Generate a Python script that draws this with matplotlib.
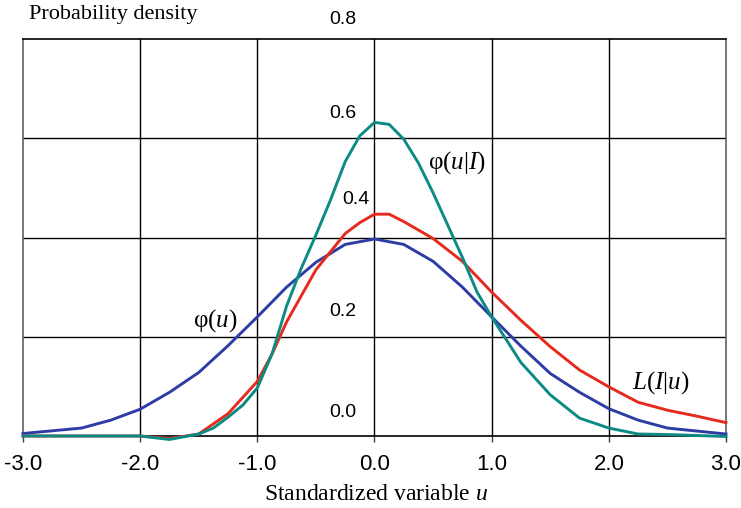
import matplotlib
matplotlib.use("Agg")
import matplotlib.pyplot as plt

# Standard normal density phi(u)
u_phi = [-3.0, -2.5, -2.25, -2.0, -1.75, -1.5, -1.25, -1.0, -0.75, -0.5, -0.25, 0.0,
         0.25, 0.5, 0.75, 1.0, 1.25, 1.5, 1.75, 2.0, 2.25, 2.5, 3.0]
phi = [0.005, 0.016, 0.032, 0.054, 0.088, 0.128, 0.182, 0.240, 0.300, 0.350, 0.386, 0.397,
       0.386, 0.352, 0.300, 0.240, 0.181, 0.126, 0.088, 0.055, 0.032, 0.016, 0.004]

# Likelihood L(I|u)
u_like = [-3.0, -2.5, -2.0, -1.75, -1.5, -1.25, -1.0, -0.875, -0.75, -0.5, -0.25, -0.125,
          0.0, 0.125, 0.25, 0.5, 0.75, 1.0, 1.25, 1.5, 1.75, 2.0, 2.25, 2.5, 2.75, 3.0]
like = [0.0, 0.0, 0.0, -0.005, 0.004, 0.045, 0.110, 0.165, 0.230, 0.335, 0.408, 0.430,
        0.447, 0.447, 0.432, 0.398, 0.352, 0.290, 0.233, 0.180, 0.133, 0.099, 0.068, 0.052,
        0.040, 0.027]

# Posterior density phi(u|I)
u_post = [-3.0, -2.5, -2.0, -1.75, -1.5, -1.375, -1.25, -1.125, -1.0, -0.875, -0.75, -0.625,
          -0.5, -0.375, -0.25, -0.125, 0.0, 0.125, 0.25, 0.375, 0.5, 0.625, 0.75, 0.875,
          1.0, 1.25, 1.5, 1.75, 2.0, 2.25, 2.5, 3.0]
post = [0.0, 0.0, 0.0, -0.007, 0.004, 0.016, 0.038, 0.062, 0.097, 0.165, 0.262, 0.338,
        0.405, 0.476, 0.553, 0.605, 0.632, 0.628, 0.598, 0.550, 0.490, 0.425, 0.360, 0.290,
        0.240, 0.148, 0.083, 0.036, 0.016, 0.004, 0.003, -0.001]

x_ticks = [-3.0, -2.0, -1.0, 0.0, 1.0, 2.0, 3.0]
y_ticks = [0.0, 0.2, 0.4, 0.6, 0.8]

SERIF = "Liberation Serif"
SANS = "Liberation Sans"
plt.rcParams["mathtext.fontset"] = "custom"
plt.rcParams["mathtext.rm"] = SERIF
plt.rcParams["mathtext.it"] = SERIF + ":italic"

fig = plt.figure(figsize=(7.41, 5.08), dpi=100)
ax = fig.add_axes([23 / 741, 1 - 436 / 508, 703 / 741, 397 / 508])
ax.set_xlim(-3, 3)
ax.set_ylim(0, 0.8)

# grid
for xv in x_ticks[1:-1]:
    ax.axvline(xv, color="black", lw=1.0, zorder=1)
for yv in y_ticks[1:-1]:
    ax.axhline(yv, color="black", lw=1.0, zorder=1)

for side in ("left", "right"):
    ax.spines[side].set_color("#606060")
    ax.spines[side].set_linewidth(1.2)
for side in ("top", "bottom"):
    ax.spines[side].set_color("black")
    ax.spines[side].set_linewidth(1.2)

ax.set_xticks(x_ticks)
ax.set_xticklabels([f"{v:.1f}" for v in x_ticks], fontfamily=SANS, fontsize=16)
ax.tick_params(axis="x", direction="out", length=4, width=1.0, color="#404040", pad=9)
ax.set_yticks([])

# curves
lw = 2.1
ax.plot(u_phi, phi, color="#2E3DA6", lw=lw, zorder=3, clip_on=False)
ax.plot(u_like, like, color="#E52A1E", lw=lw, zorder=4, clip_on=False)
ax.plot(u_post, post, color="#0B8B83", lw=lw, zorder=5, clip_on=False)

# value labels along the central axis
label_dy = {0.0: 0.048, 0.2: 0.051, 0.4: 0.076, 0.6: 0.049, 0.8: 0.039}
label_x = {0.4: -0.04}
for yv in y_ticks:
    ax.text(label_x.get(yv, -0.151), yv + label_dy[yv], f"{yv:.1f}", ha="right", va="center",
            fontfamily=SANS, fontsize=14, clip_on=False, zorder=6)

# curve annotations
ax.text(0.70, 0.55, r"$\mathrm{φ(}u\mathrm{|}I\mathrm{)}$", ha="center", va="center", fontsize=18)
ax.text(-1.36, 0.232, r"$\mathrm{φ(}u\mathrm{)}$", ha="center", va="center", fontsize=18)
ax.text(2.44, 0.107, r"$L\mathrm{(}I\mathrm{|}u\mathrm{)}$", ha="center", va="center", fontsize=18)

fig.text(29 / 741, 1 - 19 / 508, "Probability density", fontfamily=SERIF, fontsize=16,
         ha="left", va="baseline")
fig.text(376 / 741, 1 - 500 / 508, r"Standardized variable $u$", fontfamily=SERIF,
         fontsize=17, ha="center", va="baseline")

fig.savefig("out.png", dpi=100)
